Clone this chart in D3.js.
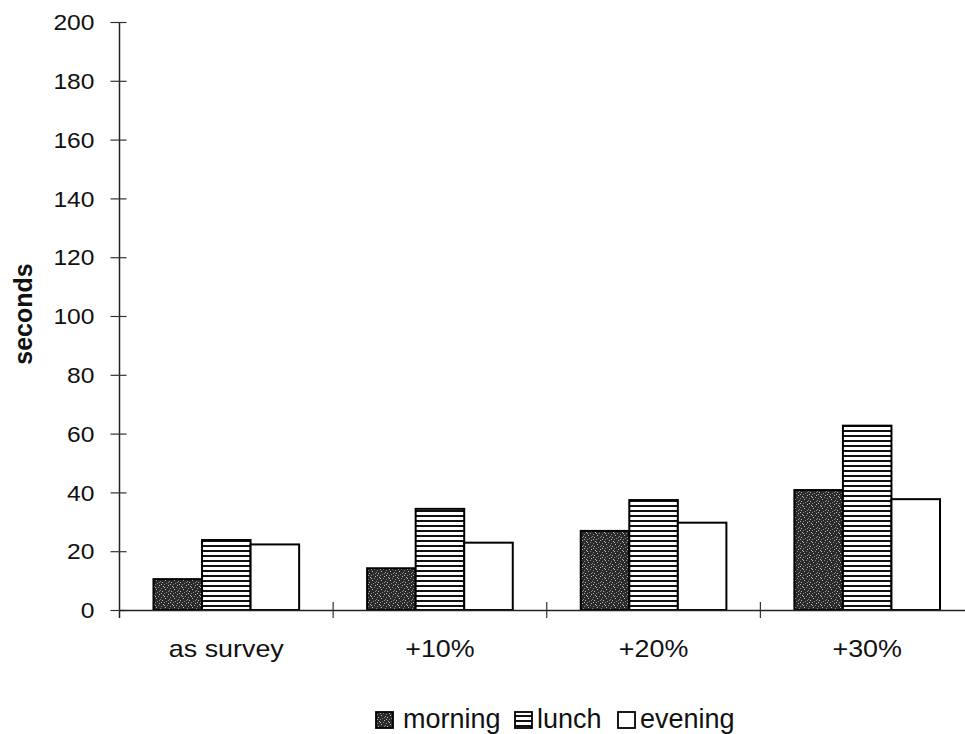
<!DOCTYPE html>
<html><head><meta charset="utf-8">
<script src="https://cdn.jsdelivr.net/npm/d3@7"></script>
<style>body{margin:0;background:#fff}svg{display:block}</style>
</head><body>
<svg id="c" width="965" height="734"></svg>
<script>
const categories = ["as survey", "+10%", "+20%", "+30%"];
const seriesNames = ["morning", "lunch", "evening"];
const morning = [10.5, 14.2, 26.9, 40.8];
const lunch = [23.8, 34.4, 37.4, 62.7];
const evening = [22.3, 22.9, 29.7, 37.7];
const yTicks = [0, 20, 40, 60, 80, 100, 120, 140, 160, 180, 200];
const yTitle = "seconds";

const values = {morning, lunch, evening};
const svg = d3.select("#c");
const FONT = "'Liberation Sans', Arial, sans-serif";
const SX = 1.12;

// patterns
const defs = svg.append("defs");
const sp = defs.append("pattern").attr("id","speck").attr("patternUnits","userSpaceOnUse")
  .attr("width",9).attr("height",9);
sp.append("rect").attr("width",9).attr("height",9).attr("fill","#2a2a2a");
const dots = [[1,1],[5,2],[3,4],[7,5],[0,6],[4,7],[8,8],[2,8],[6,0],[8,3],[2,2],[6,6]];
dots.forEach(([a,b],i)=>sp.append("rect").attr("x",a).attr("y",b).attr("width",1).attr("height",1)
  .attr("fill", i%2 ? "#8a8a8a" : "#bdbdbd"));
const st = defs.append("pattern").attr("id","stripe").attr("patternUnits","userSpaceOnUse")
  .attr("width",10).attr("height",5);
st.append("rect").attr("width",10).attr("height",5).attr("fill","#fff");
st.append("rect").attr("y",0).attr("width",10).attr("height",2).attr("fill","#111");
const fills = {morning:"url(#speck)", lunch:"url(#stripe)", evening:"#fff"};

const pLeft = 119.5, pRight = 974, pTop = 22, pBottom = 610;
const y = d3.scaleLinear().domain([0,200]).range([pBottom, pTop]);
const x0 = d3.scaleBand().domain(categories).range([pLeft, pRight]).paddingInner(0).paddingOuter(0);
const x1 = d3.scaleBand().domain(seriesNames).range([0, x0.bandwidth()]).paddingInner(0).paddingOuter(0.7);

// bars
const g = svg.append("g");
categories.forEach((c,i)=>{
  seriesNames.forEach(s=>{
    const v = values[s][i];
    g.append("rect").attr("x", x0(c)+x1(s)).attr("y", y(v))
      .attr("width", x1.bandwidth()).attr("height", y(0)-y(v))
      .attr("fill", fills[s]).attr("stroke","#000").attr("stroke-width",2);
  });
});

// y axis
const ya = svg.append("g").attr("transform",`translate(${pLeft},0)`)
  .call(d3.axisLeft(y).tickValues(yTicks).tickSize(9).tickPadding(0));
ya.select(".domain").attr("stroke","#222").attr("stroke-width",1.5).attr("d",`M0,${pTop}V${pBottom+8}`);
ya.selectAll(".tick line").attr("x1",7).attr("stroke","#333").attr("stroke-width",1.2);
ya.selectAll(".tick text").attr("x",0).attr("dy","0.35em")
  .attr("transform",`translate(-25,0) scale(${SX},1)`)
  .style("font-family",FONT).style("font-size","22px").attr("fill","#111");

// x axis
const xa = svg.append("g").attr("transform",`translate(0,${pBottom})`)
  .call(d3.axisBottom(x0).tickSize(0).tickPadding(0));
xa.select(".domain").attr("stroke","#222").attr("stroke-width",1.5);
xa.selectAll(".tick text").attr("y",0).attr("dy",0)
  .attr("transform",`translate(0,47) scale(${SX},1)`)
  .style("font-family",FONT).style("font-size","24px").attr("fill","#111");
const bounds = categories.map(c=>x0(c)).concat([x0(categories[categories.length-1])+x0.step()]);
svg.append("g").selectAll("line").data(bounds.slice(1)).join("line")
  .attr("x1",d=>d).attr("x2",d=>d).attr("y1",pBottom-8).attr("y2",pBottom+8)
  .attr("stroke","#333").attr("stroke-width",1.2);

// y title
svg.append("text").attr("transform",`translate(32,314) rotate(-90)`)
  .attr("text-anchor","middle").style("font-family",FONT).style("font-size","25px")
  .style("font-weight","bold").attr("fill","#111").text(yTitle);

// legend
const legPos = [[375,403],[514,537],[617,640]];
const lg = svg.append("g");
seriesNames.forEach((s,i)=>{
  const [sx, tx] = legPos[i];
  lg.append("rect").attr("x",sx+1).attr("y",712).attr("width",17).attr("height",16)
    .attr("fill",fills[s]).attr("stroke","#000").attr("stroke-width",1.8);
  lg.append("text").attr("x",tx).attr("y",728)
    .style("font-family",FONT).style("font-size","27px").attr("fill","#111").text(s);
});
</script>
</body></html>
